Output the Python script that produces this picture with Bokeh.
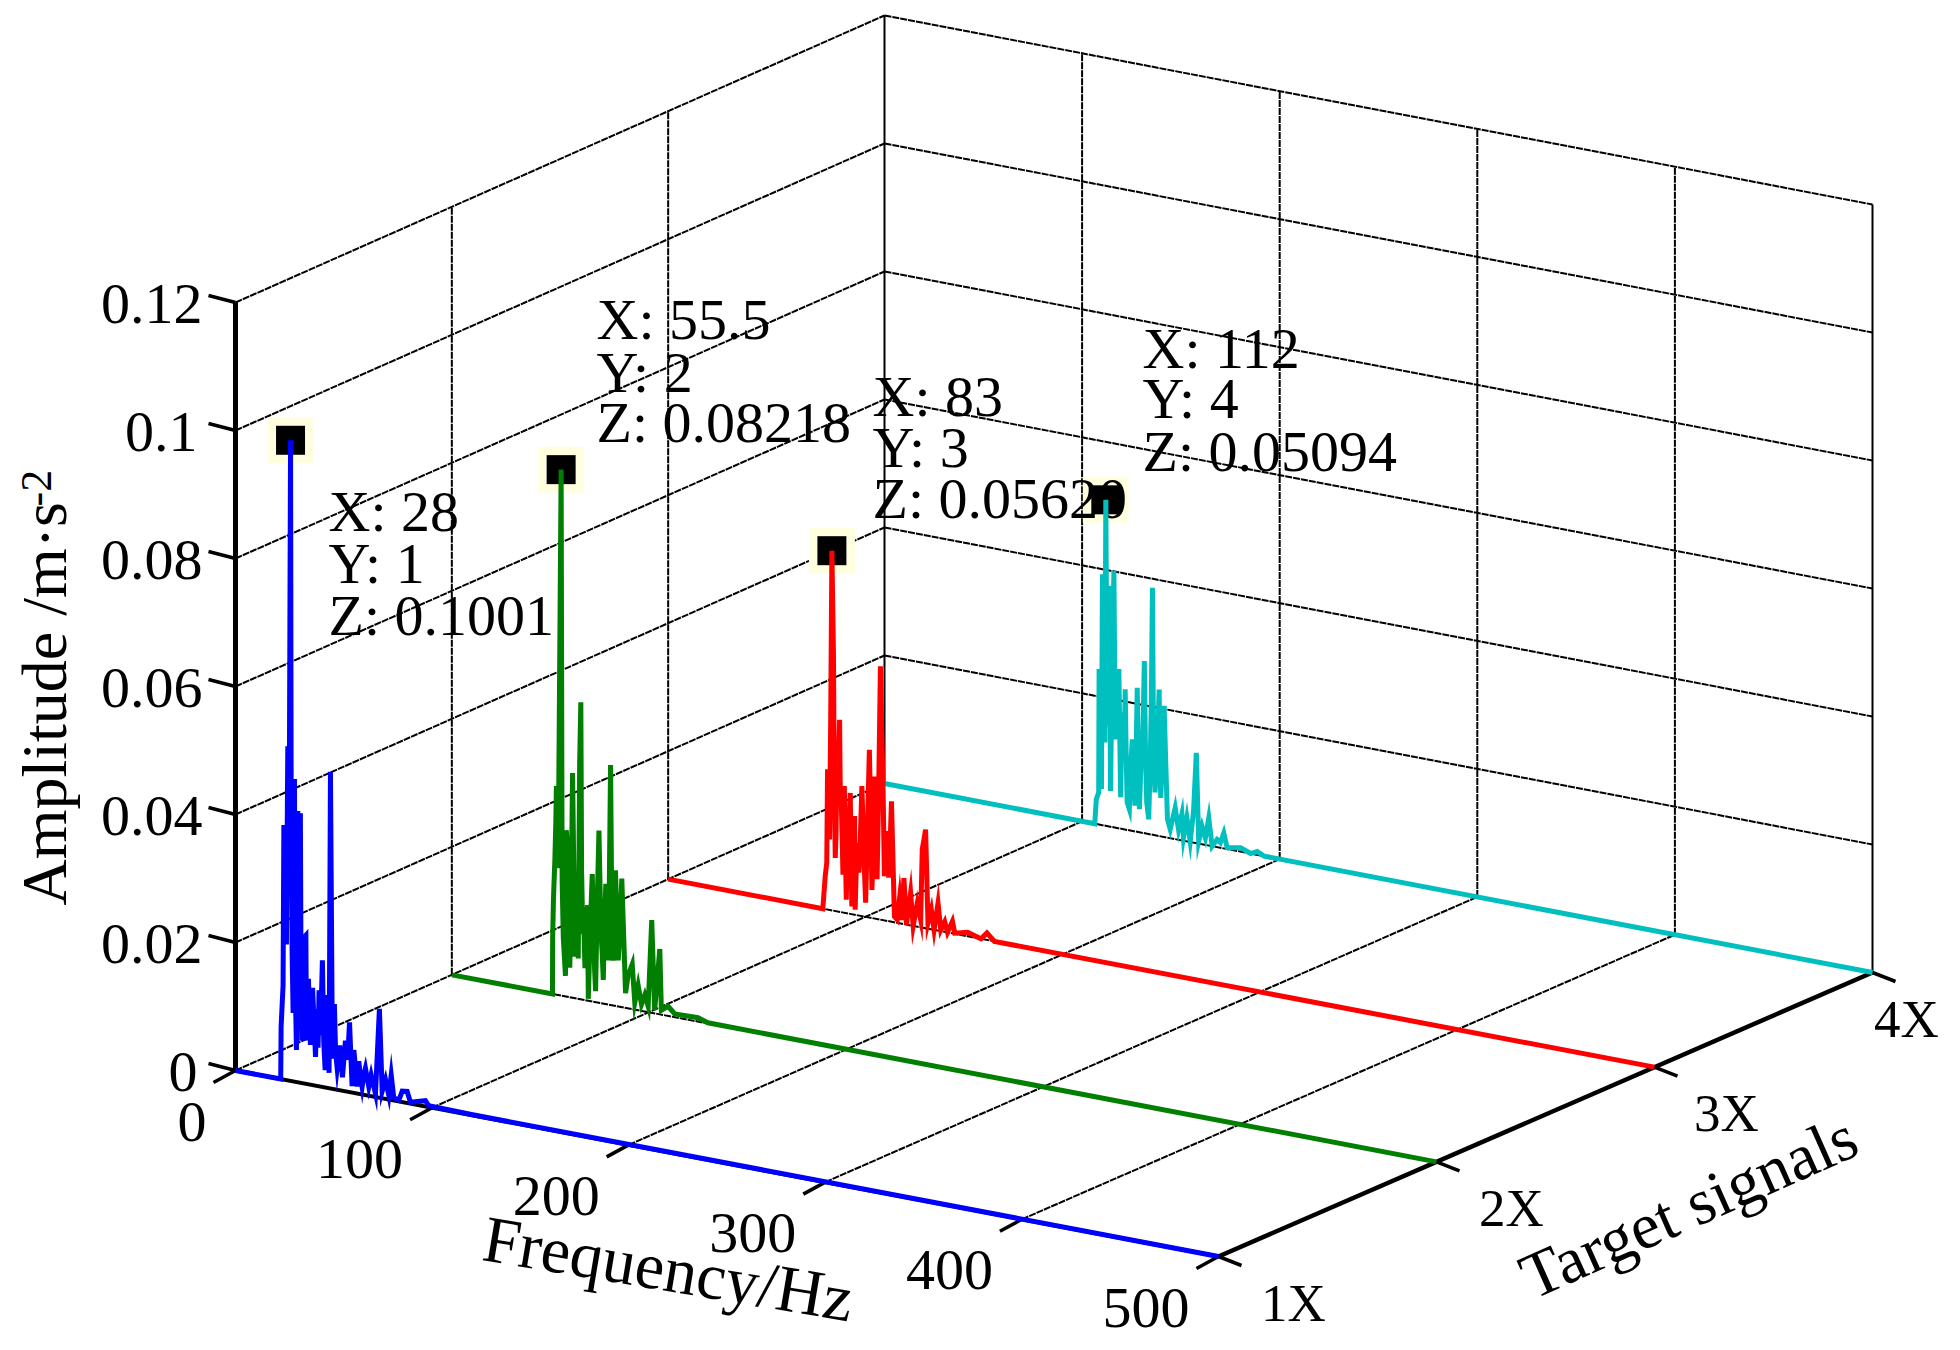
from bokeh.plotting import figure
from bokeh.models import Range1d
from bokeh.embed import file_html
from bokeh.resources import INLINE
from bokeh.core.properties import value
import math

# ---- data ----
freq_1 = [0,23,23.2,24.2,24.6,25.9,26.6,28,28.3,29.3,30,31,31.7,33,33.7,34.8,35.8,36.1,37.1,38.1,39.2,40.7,42.5,44.2,45.6,46.6,47.6,48.3,49.3,50.3,51.7,53,54.4,55.9,58,59.3,60.2,61.9,62.7,64.4,66.1,67.8,69,71.2,73.2,74.6,76.3,78,79.2,80.5,83.1,84.8,87.3,89,96.6,98.3,120,500]
amp_1 = [0,0,.0082,.0147,.0398,.0212,.0522,.1001,.0472,.0107,.0473,.005,.0424,.0421,.0066,.0228,.0232,.0068,.0165,.0062,.0152,.0045,.015,.0198,.0027,.0145,.0024,.0495,.0047,.0133,.0034,.007,.0021,.0079,.0109,.001,.0067,.0011,.0051,.0012,.0042,.0014,.0033,.0005,.0139,.0011,.003,.0006,.0039,.0004,.0002,.0017,.0018,.0002,.0009,.0002,.0001,0]
fill_f_1 = [27.2,28.8,29.6,30.4,31.3,32.1,32.5,32.8,33.4,41.5,42,43.2,44.9,50.9,57,63.5,65.2,70]
fill_a_1 = [.03,.02,.035,.015,.03,.016,.039,.014,.012,.012,.006,.008,.007,.006,.005,.003,.003,.002]

freq_2 = [0,51.1,51.2,51.6,52.3,52.8,53.1,54,55.5,56,56.6,57.7,58.1,59.1,59.9,61.3,62.5,63.3,64.2,64.9,65.5,66.5,67.6,68.9,69.3,70.4,71.3,73,74.7,75.7,76.9,78.2,79.4,80.6,81.9,83.1,84.5,86.3,87.3,88.2,89.5,91.6,92.9,94.6,96.3,98,99.7,101.5,103,105.6,106.4,109.8,113.2,125,130,500]
amp_2 = [0,0,.0088,.0148,.0209,.0269,.0326,.0198,.08218,.0181,.0091,.0032,.026,.0225,.0046,.0351,.0065,.0179,.0063,.0368,.0464,.0103,.005,.0149,.0003,.0123,.0199,.0017,.0269,.0115,.0037,.0188,.0069,.0375,.007,.0212,.0072,.0201,.0109,.0023,.0051,.007,.0011,.0039,.001,.0026,.0009,.0145,.0005,.0102,.0007,.0015,.0005,.0006,.0001,0]
fill_f_2 = [60.6,62.9,63.8,65.9,67,68.2,70,72,72.5,73.8,76.3,77.5,78.8,80,81.3,82.5,83.8,85.4]
fill_a_2 = [.016,.014,.012,.02,.012,.012,.008,.011,.005,.015,.008,.012,.012,.02,.012,.013,.014,.012]

freq_3 = [0,78.4,79.6,80.4,80.8,81.8,83,83.8,84.7,85.5,86.9,87.7,88.6,89.3,90.3,90.9,92.3,93.1,94.5,94.8,95.7,96.7,98.2,99.4,100.1,102,103.3,104.7,105.9,107.6,108.9,109.6,111.8,113.2,114.7,116.1,117.4,118.6,119.5,120.8,122.9,124.2,126.3,128,128.8,130.5,131.7,133.4,134.8,136.8,138.2,140.2,141.6,144.1,145.3,151.8,158.6,161.6,165.4,500]
amp_3 = [0,0,.0051,.0073,.0219,.011,.0562,.0398,.0083,.0242,.03,.0176,.0059,.0198,.0021,.0126,.0189,.0012,.0154,.0008,.0113,.0067,.0203,.0079,.0022,.0262,.0044,.0222,.0062,.0396,.0214,.0069,.0068,.0188,.0009,.0005,.0042,.0006,.0072,0,.0051,0,.0037,.0012,.0122,.0154,.0009,.0031,0,.0043,.0002,.0016,0,.0019,.0001,.0006,0,.0011,0,0]
fill_f_3 = [82.4,84.2,85.1,86.2,87.2,88.2,89.8,91.5,93.8,96.2,97.4,98.8,100.9,101.5,102.7,104,105.3,106.7,108.2,110.7,112.5]
fill_a_3 = [.03,.02,.012,.022,.02,.012,.01,.012,.008,.01,.012,.014,.012,.02,.015,.012,.014,.02,.03,.014,.012]

freq_4 = [0,106.4,107.2,108.4,108.6,109.8,110.3,111.5,112,112.7,113.7,114.4,116.1,117.1,118.6,119.5,120.8,121.8,122.8,123.9,125.4,126.7,127.9,129,130.1,131.5,132.7,133.7,134.4,135.6,136.9,139,139.8,141.5,143.2,144.6,147.1,148.8,150.5,151.3,153,154.7,156.4,157.8,159,160.7,162.4,164.1,165.8,168.3,170,171.7,173.4,180.2,185.3,188.6,192.1,500]
amp_4 = [0,0,.0039,.005,.0243,.0056,.0392,.013,.05094,.0157,.0376,.0056,.0401,.0138,.0249,.0049,.0182,.0219,.0043,.0033,.0143,.004,.0225,.0036,.0141,.0269,.0049,.0023,.0102,.0386,.0067,.0229,.006,.0205,.0029,.0014,.0049,.0016,.0041,.0005,.0037,.0001,.0049,.0141,.0004,.0028,.0011,.0043,0,.0012,.0008,.0024,.0002,.0006,0,.0005,0,0]
fill_f_4 = [109,110,110.9,112.4,113.2,115.2,116.6,117.8,119.9,121.3,122.3,124.6,126,127.3,128.4,129.5,130.8,132.1,135,136.2,137.9,139.4,140.6,142.3]
fill_a_4 = [.018,.02,.025,.03,.02,.025,.02,.018,.012,.012,.012,.01,.012,.012,.012,.008,.016,.012,.02,.012,.012,.012,.012,.012]

signals = [1, 2, 3, 4]
colors = ["#0000FF", "#007F00", "#FF0000", "#00BFBF"]
peak_x = [28, 55.5, 83, 112]
peak_z = [0.1001, 0.08218, 0.0562, 0.05094]
peak_text = [["X: 28", "Y: 1", "Z: 0.1001"],
             ["X: 55.5", "Y: 2", "Z: 0.08218"],
             ["X: 83", "Y: 3", "Z: 0.05620"],
             ["X: 112", "Y: 4", "Z: 0.05094"]]

z_ticks = [0, 0.02, 0.04, 0.06, 0.08, 0.1, 0.12]
z_labels = ["0", "0.02", "0.04", "0.06", "0.08", "0.1", "0.12"]
x_ticks = [0, 100, 200, 300, 400, 500]
x_labels = ["0", "100", "200", "300", "400", "500"]
y_ticks = [1, 2, 3, 4]
y_labels = ["1X", "2X", "3X", "4X"]


# ---- oblique projection to page pixels ----
def px(x, y, z=0.0):
    return 235 + x / 500 * (983 + 5 * (y - 1) / 3) + (y - 1) / 3 * 649


def py(x, y, z=0.0):
    return 1070 + x / 500 * (186 + 3 * (y - 1) / 3) - (y - 1) / 3 * 287 - z / 0.12 * 768


def seg(a, b):
    return [px(*a), px(*b)], [py(*a), py(*b)]


SERIF = value("Liberation Serif")
p = figure(width=1952, height=1342, output_backend="svg", toolbar_location=None,
           x_range=Range1d(0, 1952), y_range=Range1d(1342, 0), min_border=0)
p.axis.visible = False
p.grid.visible = False
p.outline_line_color = None

# ---- walls and floor ----
gx, gy = [], []
for z in z_ticks[1:]:
    for s in (seg((0, 1, z), (0, 4, z)), seg((0, 4, z), (500, 4, z))):
        gx.append(s[0]); gy.append(s[1])
for x in x_ticks[1:-1]:
    for s in (seg((x, 1, 0), (x, 4, 0)), seg((x, 4, 0), (x, 4, 0.12))):
        gx.append(s[0]); gy.append(s[1])
for y in y_ticks[1:3]:
    for s in (seg((0, y, 0), (0, y, 0.12)), seg((0, y, 0), (500, y, 0))):
        gx.append(s[0]); gy.append(s[1])
s = seg((0, 1, 0), (0, 4, 0)); gx.append(s[0]); gy.append(s[1])
s = seg((0, 4, 0), (500, 4, 0)); gx.append(s[0]); gy.append(s[1])
p.multi_line(gx, gy, line_color="black", line_width=2, line_dash="7 1")

for a, b in [((0, 4, 0), (0, 4, 0.12)), ((500, 4, 0), (500, 4, 0.12))]:
    s = seg(a, b)
    p.line(s[0], s[1], line_color="black", line_width=2)

# ---- axes ----
s = seg((0, 1, 0), (0, 1, 0.12)); p.line(s[0], s[1], line_color="black", line_width=5)
s = seg((0, 1, 0), (500, 1, 0)); p.line(s[0], s[1], line_color="black", line_width=4)
s = seg((500, 1, 0), (500, 4, 0)); p.line(s[0], s[1], line_color="black", line_width=4.5)

tx, ty = [], []
for z in z_ticks:
    tx.append([px(0, 1), px(0, 1) - 27]); ty.append([py(0, 1, z), py(0, 1, z) - 7])
for x in x_ticks:
    tx.append([px(x, 1), px(x, 1) - 22]); ty.append([py(x, 1), py(x, 1) + 12])
for y in y_ticks:
    tx.append([px(500, y), px(500, y) + 23]); ty.append([py(500, y), py(500, y) + 9])
p.multi_line(tx, ty, line_color="black", line_width=3.5)

# ---- peak markers ----
mx = [px(a, b) for a, b in zip(peak_x, signals)]
my = [py(a, b, c) for a, b, c in zip(peak_x, signals, peak_z)]
p.scatter(mx, my, marker="square", size=46, fill_color="#FFFFE0", line_color=None)
p.scatter(mx, my, marker="square", size=29, fill_color="black", line_color=None)

# ---- tick labels ----
TICK = value("58px")
z_right = [197, 202, 202, 202, 202, 197, 202]
p.text(z_right, [py(0, 1, z) + 1 for z in z_ticks], text=z_labels, text_font=SERIF,
       text_font_size=TICK, text_align="right", text_baseline="middle", text_color="black")
p.text([px(x, 1) - 29 for x in x_ticks], [py(x, 1) + 51 for x in x_ticks], text=x_labels,
       text_font=SERIF, text_font_size=TICK, text_align="right", text_baseline="middle",
       text_color="black")
y_dx = [75, 75, 72, 34]
p.text([px(500, y) + d for y, d in zip(y_ticks, y_dx)], [py(500, y) + 46 for y in y_ticks],
       text=y_labels, text_font=SERIF, text_font_size=value("53px"), text_align="center",
       text_baseline="middle", text_color="black")

# ---- data tips ----
tip_left = [328, 596, 872, 1142]
tip_y = [[511, 563, 615], [319, 372, 422], [396, 447, 498], [348, 398, 451]]
for left, ys, lines in zip(tip_left, tip_y, peak_text):
    p.text([left] * 3, ys, text=lines, text_font=SERIF, text_font_size=TICK,
           text_align="left", text_baseline="middle", text_color="black")

# ---- spectra ----
series = [(freq_1 + fill_f_1, amp_1 + fill_a_1), (freq_2 + fill_f_2, amp_2 + fill_a_2),
          (freq_3 + fill_f_3, amp_3 + fill_a_3), (freq_4 + fill_f_4, amp_4 + fill_a_4)]
for idx in (3, 2, 1, 0):
    pairs = sorted(zip(*series[idx]))
    sig = signals[idx]
    p.line([px(a, sig) for a, b in pairs], [py(a, sig, b) for a, b in pairs],
           line_color=colors[idx], line_width=5, line_join="miter")

# ---- axis titles ----
p.text([44], [905], text=["Amplitude /m\u00b7s"], text_font=SERIF, text_font_size=value("64px"),
       angle=math.pi / 2, text_align="left", text_baseline="alphabetic", text_color="black")
p.text([36], [506], text=["-2"], text_font=SERIF, text_font_size=value("44px"),
       angle=math.pi / 2, text_align="left", text_baseline="alphabetic", text_color="black")
p.text([668], [1268], text=["Frequency/Hz"], text_font=SERIF, text_font_size=value("66px"),
       angle=-math.radians(9.5), text_align="center", text_baseline="middle", text_color="black")
p.text([1688], [1206], text=["Target signals"], text_font=SERIF, text_font_size=value("65px"),
       angle=math.radians(24), text_align="center", text_baseline="middle", text_color="black")

open("out.html", "w").write(file_html(p, INLINE))
